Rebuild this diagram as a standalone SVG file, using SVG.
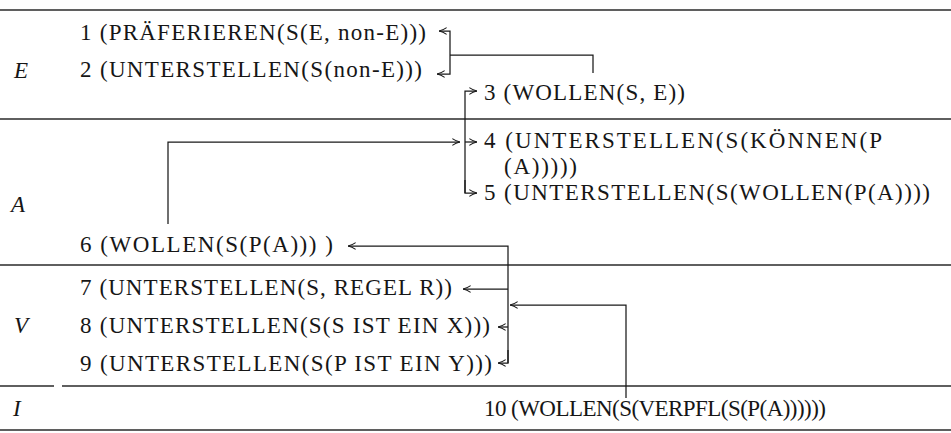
<svg xmlns="http://www.w3.org/2000/svg" width="951" height="433" viewBox="0 0 951 433">
<defs>
<marker id="ah" viewBox="0 0 10 10" refX="9.5" refY="5" markerWidth="9" markerHeight="9" orient="auto" markerUnits="userSpaceOnUse">
<path d="M1,1.2 Q5,4 9.5,5 Q5,6 1,8.8" fill="none" stroke="#1a1a1a" stroke-width="1.2"/>
</marker>
</defs>
<style>
.t{font-family:"Liberation Serif","Times New Roman",serif;font-size:23px;fill:#161616}
.lab{font-family:"Liberation Serif","Times New Roman",serif;font-style:italic;font-size:23px;fill:#161616}
.rule{stroke:#2a2a2a;stroke-width:1.6;fill:none}
.c{stroke:#1a1a1a;stroke-width:1.25;fill:none}
.a{marker-end:url(#ah)}
</style>
<rect width="951" height="433" fill="#ffffff"/>
<g id="rules">
<line class="rule" x1="0" y1="10" x2="951" y2="10"/>
<line class="rule" x1="0" y1="119" x2="951" y2="119"/>
<line class="rule" x1="0" y1="265" x2="951" y2="265"/>
<line class="rule" x1="0" y1="386" x2="54" y2="386"/>
<line class="rule" x1="62" y1="386" x2="951" y2="386"/>
<line class="rule" x1="0" y1="430" x2="951" y2="430"/>
</g>
<g id="labels">
<text class="lab" x="14" y="78">E</text>
<text class="lab" x="11" y="212">A</text>
<text class="lab" x="14" y="333">V</text>
<text class="lab" x="13" y="416">I</text>
</g>
<g id="n1"><text class="t" x="80" y="40" textLength="346" lengthAdjust="spacing">1 (PRÄFERIEREN(S(E, non-E)))</text></g>
<g id="n2"><text class="t" x="80" y="77" textLength="342" lengthAdjust="spacing">2 (UNTERSTELLEN(S(non-E)))</text></g>
<g id="n3"><text class="t" x="484" y="100" textLength="201" lengthAdjust="spacing">3 (WOLLEN(S, E))</text></g>
<g id="n4"><text class="t" x="484" y="148" textLength="398" lengthAdjust="spacing">4 (UNTERSTELLEN(S(KÖNNEN(P</text>
<text class="t" x="504" y="174" textLength="73" lengthAdjust="spacing">(A)))))</text></g>
<g id="n5"><text class="t" x="484" y="200" textLength="446" lengthAdjust="spacing">5 (UNTERSTELLEN(S(WOLLEN(P(A))))</text></g>
<g id="n6"><text class="t" x="80" y="252" textLength="253" lengthAdjust="spacing">6 (WOLLEN(S(P(A))) )</text></g>
<g id="n7"><text class="t" x="80" y="295" textLength="372" lengthAdjust="spacing">7 (UNTERSTELLEN(S, REGEL R))</text></g>
<g id="n8"><text class="t" x="80" y="333" textLength="410" lengthAdjust="spacing">8 (UNTERSTELLEN(S(S IST EIN X)))</text></g>
<g id="n9"><text class="t" x="80" y="371" textLength="412" lengthAdjust="spacing">9 (UNTERSTELLEN(S(P IST EIN Y)))</text></g>
<g id="n10"><text class="t" x="484" y="416" textLength="342" lengthAdjust="spacing">10 (WOLLEN(S(VERPFL(S(P(A))))))</text></g>
<g id="connectors">
<path class="c a" d="M450,55 V31 H439"/>
<path class="c a" d="M450,55 V74 H437"/>
<path class="c" d="M450,55 H593 V73"/>
<path class="c a" d="M465,193 V91 H477"/>
<path class="c a" d="M168,224 V142 H460"/>
<path class="c a" d="M465,142 H477"/>
<path class="c a" d="M465,180 V193 H477"/>
<path class="c a" d="M508,363 V246 H348"/>
<path class="c a" d="M508,289 H463"/>
<path class="c a" d="M508,327 H498"/>
<path class="c a" d="M508,350 V363 H498"/>
<path class="c a" d="M626,398 V305 H510"/>
</g>
</svg>
